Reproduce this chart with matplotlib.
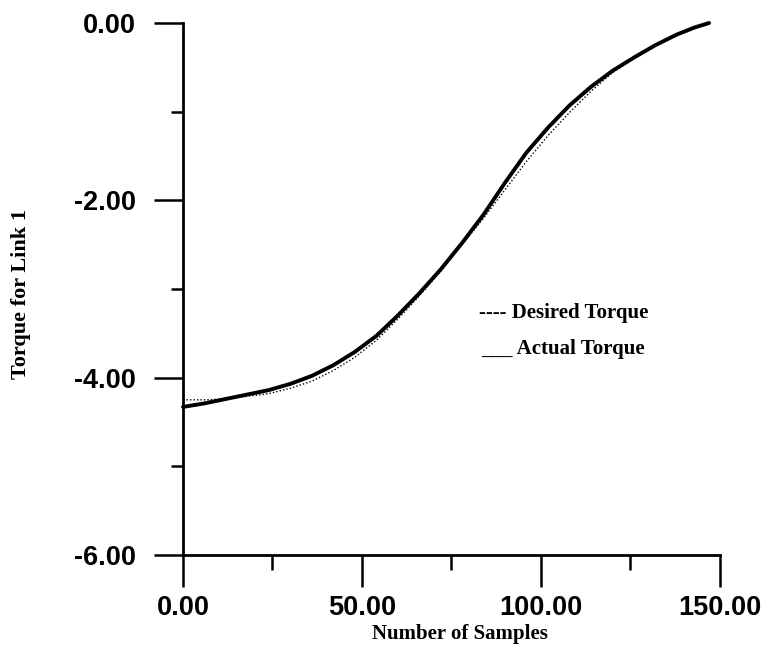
import matplotlib
matplotlib.use("Agg")
import matplotlib.pyplot as plt
from matplotlib.ticker import MultipleLocator

# samples
samples = [0, 6, 12, 18, 24, 30, 36, 42, 48, 54, 60, 66, 72, 78, 84,
           90, 96, 102, 108, 114, 120, 126, 132, 138, 143, 147]
actual_torque = [-4.33, -4.29, -4.24, -4.19, -4.14, -4.07, -3.98, -3.86, -3.71,
                 -3.53, -3.30, -3.05, -2.78, -2.48, -2.16, -1.80, -1.46, -1.18,
                 -0.93, -0.72, -0.54, -0.39, -0.25, -0.13, -0.05, 0.0]
desired_torque = [-4.25, -4.25, -4.24, -4.21, -4.18, -4.12, -4.04, -3.92, -3.77,
                  -3.58, -3.34, -3.08, -2.80, -2.50, -2.20, -1.88, -1.56, -1.27,
                  -1.01, -0.77, -0.56, -0.40, -0.26, -0.14, -0.06, 0.0]

x_ticks = [0, 50, 100, 150]
y_ticks = [-6, -4, -2, 0]

serif = "Liberation Serif"
sans = "Liberation Sans"

fig = plt.figure(figsize=(7.69, 6.55), dpi=100)
ax = fig.add_axes([0.238, 0.1527, 0.698, 0.8122])

ax.plot(samples, desired_torque, color="black", lw=1.0, ls=(0, (1, 1.5)), clip_on=False)
ax.plot(samples, actual_torque, color="black", lw=2.8, solid_capstyle="round", clip_on=False)

ax.set_xlim(0, 150)
ax.set_ylim(-6, 0)

for s in ["top", "right"]:
    ax.spines[s].set_visible(False)
for s in ["left", "bottom"]:
    ax.spines[s].set_linewidth(2.0)

ax.set_xticks(x_ticks)
ax.set_yticks(y_ticks)
ax.xaxis.set_minor_locator(MultipleLocator(25))
ax.yaxis.set_minor_locator(MultipleLocator(1))
ax.set_xticklabels(["%.2f" % v for v in x_ticks])
ax.set_yticklabels(["%.2f" % v for v in y_ticks])

ax.tick_params(axis="x", which="major", direction="out", length=23, width=1.8, pad=6)
ax.tick_params(axis="x", which="minor", direction="out", length=11, width=1.8)
ax.tick_params(axis="y", which="major", direction="out", length=21, width=1.8, pad=13)
ax.tick_params(axis="y", which="minor", direction="out", length=8.5, width=1.8)
for lab in ax.get_xticklabels() + ax.get_yticklabels():
    lab.set_fontfamily(sans)
    lab.set_fontweight("bold")
    lab.set_fontsize(19.5)

ax.set_xlabel("Number of Samples", fontfamily=serif, fontweight="bold", fontsize=15)
ax.xaxis.set_label_coords(0.515, -0.13)
ax.set_ylabel("Torque for Link 1", fontfamily=serif, fontweight="bold", fontsize=16)
ax.yaxis.set_label_coords(-0.283, 0.49)

# legend written as plain text, the way the original has it
ax.text(0.552, 0.455, "---- Desired Torque", transform=ax.transAxes,
        fontfamily=serif, fontweight="bold", fontsize=15, va="center", ha="left")
ax.text(0.555, 0.387, "___ Actual Torque", transform=ax.transAxes,
        fontfamily=serif, fontweight="bold", fontsize=15, va="center", ha="left")

fig.savefig("out.png", dpi=100)
